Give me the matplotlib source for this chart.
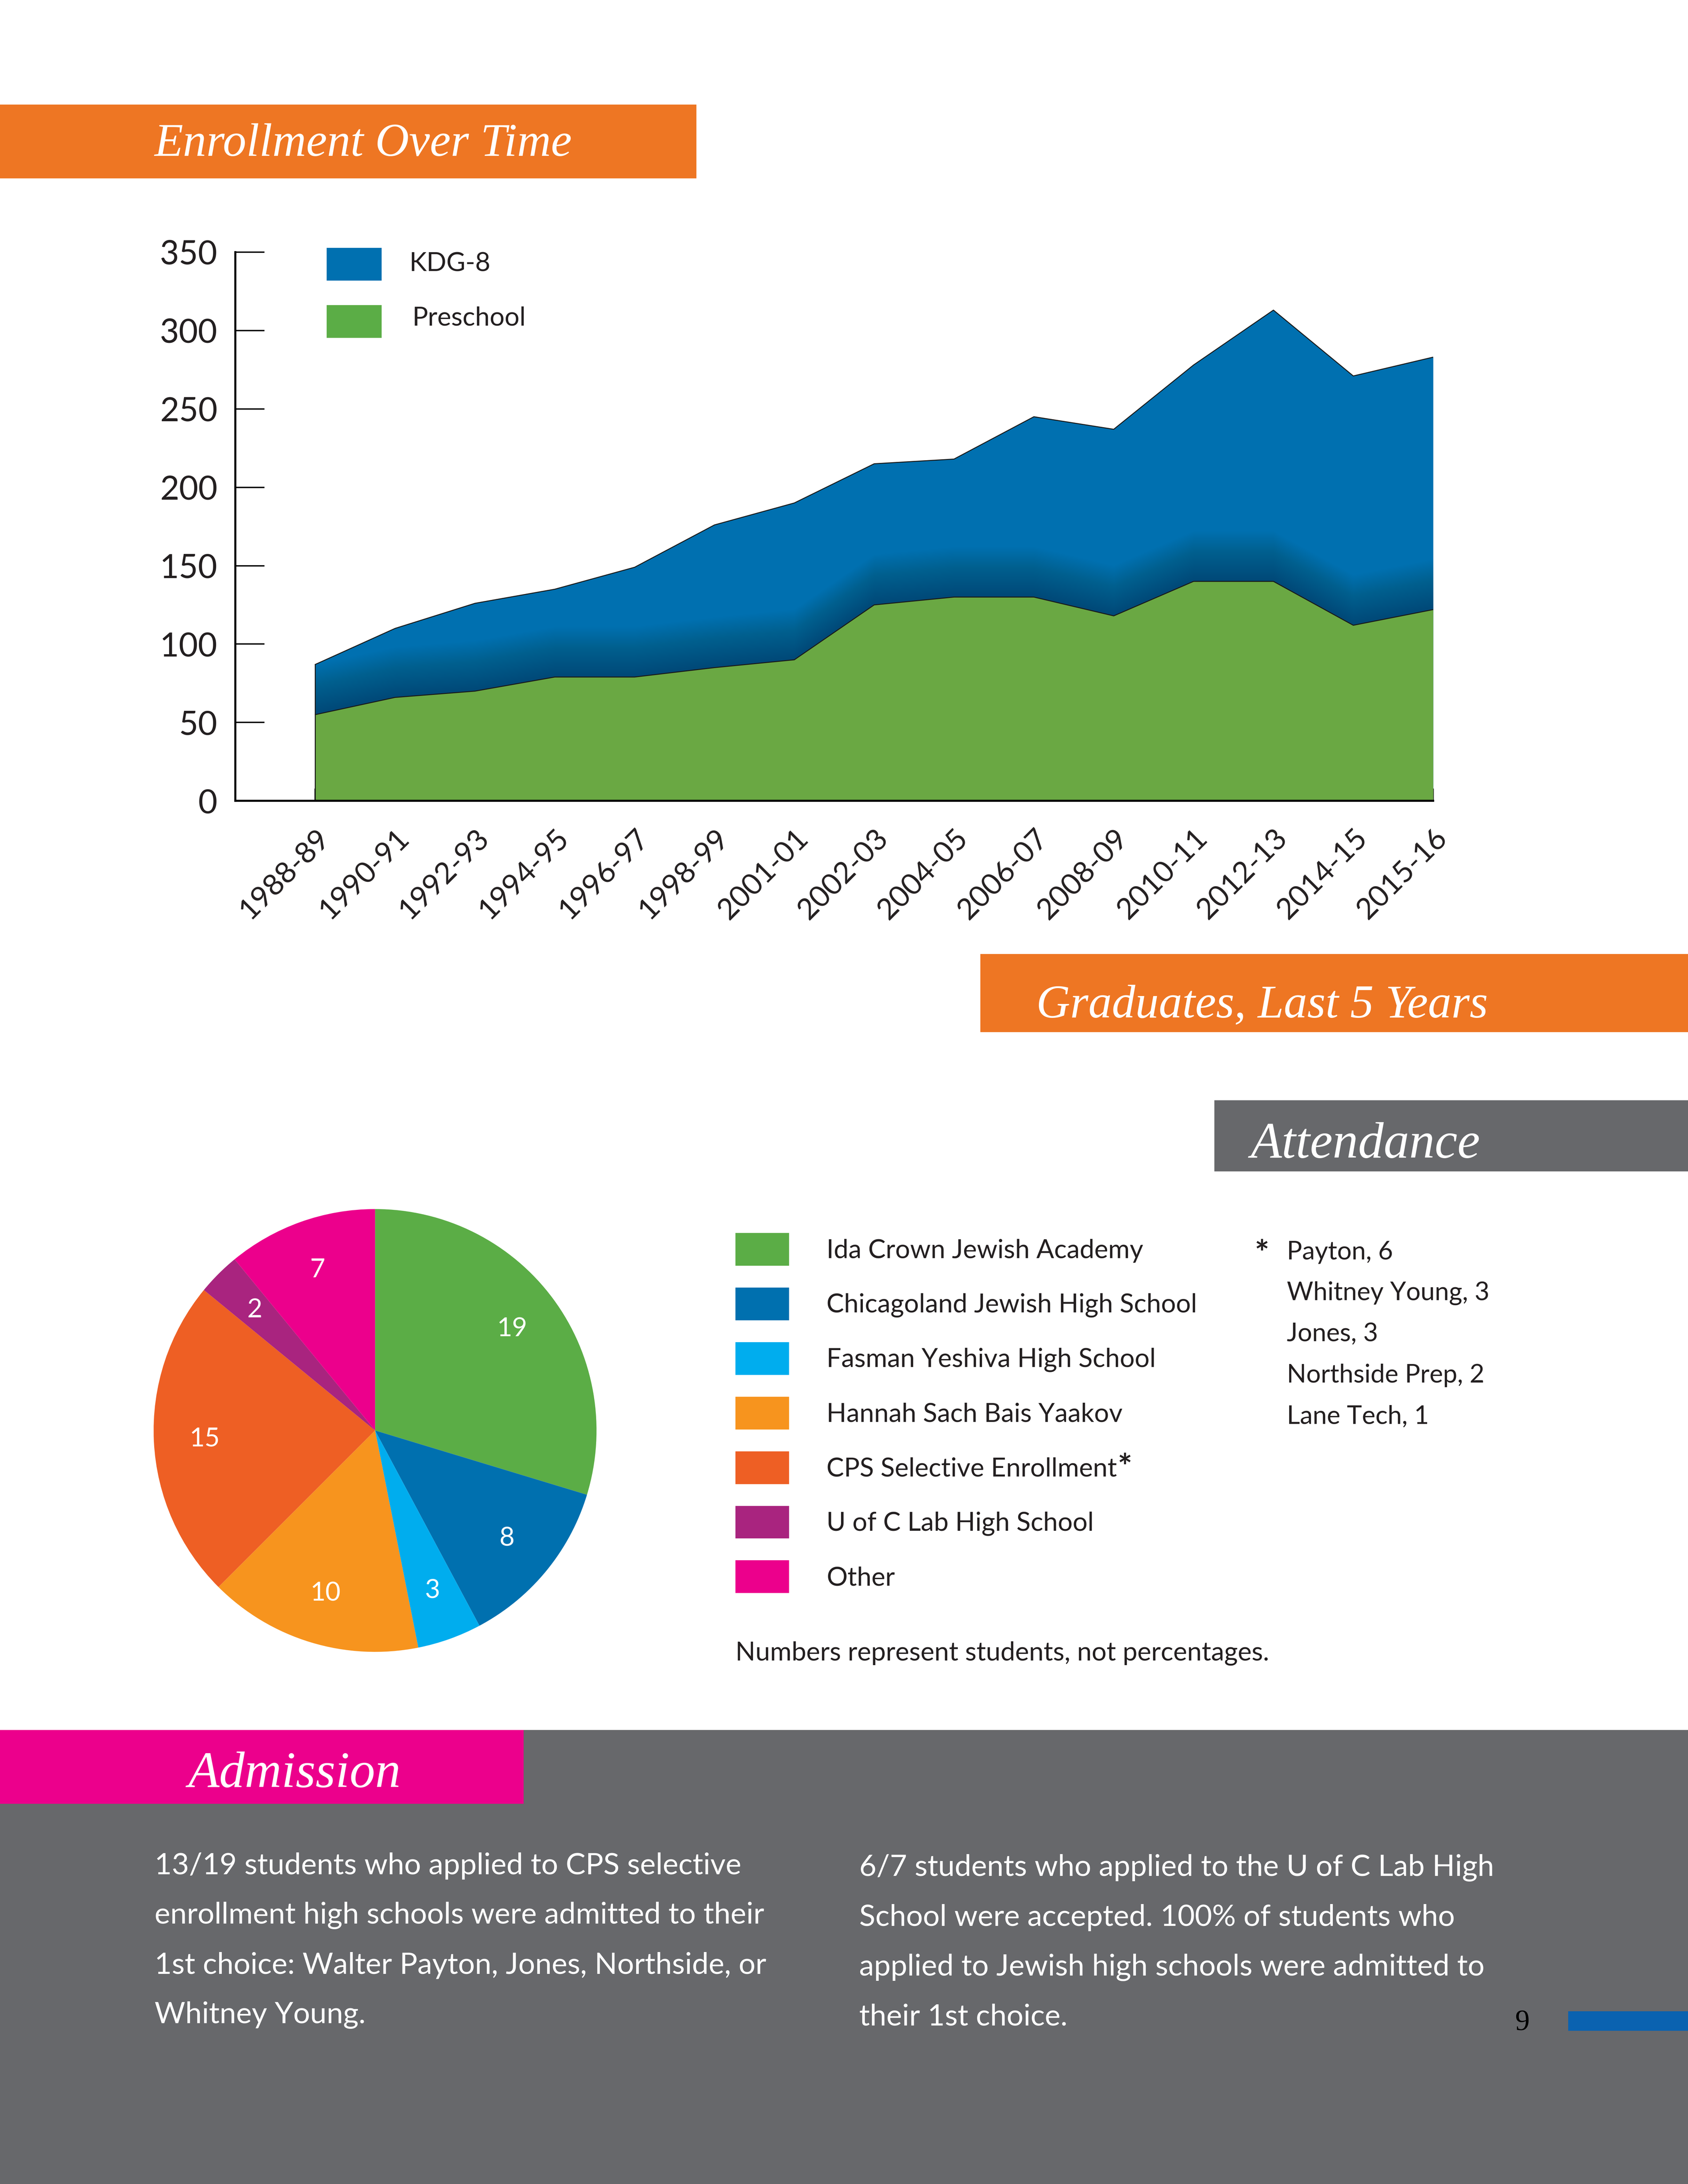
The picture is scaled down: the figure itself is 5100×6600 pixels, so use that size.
import matplotlib
matplotlib.use('Agg')
import matplotlib.pyplot as plt
from matplotlib.patches import Rectangle
from matplotlib.text import Annotation
import numpy as np

# ---------------- data ----------------
years = ['1988-89', '1990-91', '1992-93', '1994-95', '1996-97', '1998-99', '2001-01',
         '2002-03', '2004-05', '2006-07', '2008-09', '2010-11', '2012-13', '2014-15', '2015-16']
preschool = [55, 66, 70, 79, 79, 85, 90, 125, 130, 130, 118, 140, 140, 112, 122]
kdg8 = [32, 44, 56, 56, 70, 91, 100, 90, 88, 115, 119, 138, 173, 159, 161]
series_names = ['KDG-8', 'Preschool']
y_ticks = [0, 50, 100, 150, 200, 250, 300, 350]

schools = ['Ida Crown Jewish Academy', 'Chicagoland Jewish High School',
           'Fasman Yeshiva High School', 'Hannah Sach Bais Yaakov',
           'CPS Selective Enrollment', 'U of C Lab High School', 'Other']
grads = [19, 8, 3, 10, 15, 2, 7]
cps_names = ['Payton', 'Whitney Young', 'Jones', 'Northside Prep', 'Lane Tech']
cps_counts = [6, 3, 3, 2, 1]

# ---------------- style ----------------
ORANGE = '#ee7623'
GREY = '#67686b'
PINK = '#ec008c'
BLUE = '#0070b0'
GREEN_AREA = '#6aa843'
GREEN = '#5bad46'
TXT = '#231f20'
school_colors = ['#5bad46', '#0070af', '#00adee', '#f7941e', '#ee5f24', '#a9247f', '#ec008c']

SANS = ['Lato', 'Open Sans', 'DejaVu Sans']
SERIF = ['Liberation Serif', 'DejaVu Serif']
plt.rcParams['font.family'] = SANS

W, H = 1212.0, 1568.0
def fx(x): return x / W
def fy(y): return 1 - y / H

fig = plt.figure(figsize=(17, 22), dpi=300)
fig.patch.set_facecolor('white')

def rect(x0, y0, x1, y1, color, z=0.5):
    fig.add_artist(Rectangle((fx(x0), fy(y1)), fx(x1) - fx(x0), fy(y0) - fy(y1),
                             transform=fig.transFigure, facecolor=color,
                             edgecolor='none', zorder=z))

# banners
rect(0, 75, 500, 128, ORANGE)
fig.text(fx(111), fy(112), 'Enrollment Over Time', color='white', fontsize=34,
         family=SERIF, style='italic', va='baseline', ha='left')
rect(704, 685, 1212, 741, ORANGE)
fig.text(fx(744), fy(730.5), 'Graduates, Last 5 Years', color='white', fontsize=34,
         family=SERIF, style='italic', va='baseline', ha='left')
rect(872, 790, 1212, 841, GREY)
fig.text(fx(898), fy(831), 'Attendance', color='white', fontsize=37,
         family=SERIF, style='italic', va='baseline', ha='left')

# bottom panel
rect(0, 1242, 1212, 1568, GREY, z=0.4)
rect(0, 1242, 376, 1295, PINK)
fig.text(fx(135), fy(1283), 'Admission', color='white', fontsize=37,
         family=SERIF, style='italic', va='baseline', ha='left')

left_par = ['13/19 students who applied to CPS selective',
            'enrollment high schools were admitted to their',
            '1st choice: Walter Payton, Jones, Northside, or',
            'Whitney Young.']
right_par = ['6/7 students who applied to the U of C Lab High',
             'School were accepted. 100% of students who',
             'applied to Jewish high schools were admitted to',
             'their 1st choice.']
for i, line in enumerate(left_par):
    fig.text(fx(111), fy(1339.6 + 35.7 * i), line, color='white', fontsize=21.5,
             va='center', ha='left')
for i, line in enumerate(right_par):
    fig.text(fx(617), fy(1341 + 35.7 * i), line, color='white', fontsize=21.5,
             va='center', ha='left')

fig.text(fx(1093), fy(1452), '9', color='black', fontsize=21, family=SERIF,
         va='center', ha='center')
rect(1126, 1444, 1212, 1458, '#0a62b0')

# ---------------- area chart ----------------
x = np.arange(len(years))
pre = np.array(preschool, dtype=float)
tot = pre + np.array(kdg8, dtype=float)

ax = fig.add_axes([fx(169), fy(575), fx(1029) - fx(169), fy(181) - fy(575)])
ax.set_facecolor('none')
ax.fill_between(x, 0, tot, color=BLUE, linewidth=0, zorder=1)
# soft shadow of the lower band
n_layers = 40
for k in range(n_layers):
    h = 32.0 * (k + 1) / n_layers
    ax.fill_between(x, pre, np.minimum(pre + h, tot), color='#00223a',
                    alpha=0.011, linewidth=0, zorder=1.5)
ax.fill_between(x, 0, pre, color=GREEN_AREA, linewidth=0, zorder=2)
ax.plot(x, tot, color='#1a1a1a', lw=0.7, zorder=3)
ax.plot(x, pre, color='#1a1a1a', lw=0.7, zorder=3)
ax.plot([x[0], x[0]], [0, tot[0]], color='#1a1a1a', lw=0.7, zorder=3)

ax.set_xlim(-1, len(years) - 1)
ax.set_ylim(0, 350)
for s in ['top', 'right']:
    ax.spines[s].set_visible(False)
for s in ['left', 'bottom']:
    ax.spines[s].set_linewidth(1.5)
    ax.spines[s].set_color('black')
    ax.spines[s].set_zorder(5)
ax.set_yticks(y_ticks)
ax.set_yticklabels([str(v) for v in y_ticks], fontsize=24, color=TXT)
ax.tick_params(axis='y', direction='in', length=21, width=1.0, pad=13)
ax.set_xticks(x)
ax.set_xticklabels(years, fontsize=21.5, color=TXT,
                   rotation=45, ha='right', va='top', rotation_mode='anchor')
ax.tick_params(axis='x', direction='in', length=9, width=0.9, pad=17)
for t in ax.get_xticklabels() + ax.get_yticklabels():
    t.set_zorder(6)

# legend (area)
rect(234.5, 178, 274, 201.5, BLUE, z=2)
rect(234.5, 219, 274, 242.5, GREEN, z=2)
fig.text(fx(294), fy(189.5), series_names[0], fontsize=19, color=TXT, va='center', ha='left')
fig.text(fx(296), fy(228.5), series_names[1], fontsize=19, color=TXT, va='center', ha='left')

# ---------------- pie ----------------
r = 159
pax = fig.add_axes([fx(269.3 - r), fy(1027 + r), 2 * r / W, 2 * r / H])
total = sum(grads)
pax.pie(grads, colors=school_colors, startangle=90, counterclock=False,
        autopct=lambda p: f'{int(round(p * total / 100))}', pctdistance=0.77,
        textprops=dict(color='white', fontsize=19),
        wedgeprops=dict(linewidth=0))
pax.set_xlim(-1, 1)
pax.set_ylim(-1, 1)
pax.set_aspect('equal')
pax.axis('off')

# pie legend
for i, (name, col) in enumerate(zip(schools, school_colors)):
    cy = 897 + 39.17 * i
    rect(528, cy - 11.75, 566.5, cy + 11.75, col, z=2)
    t = fig.text(fx(593.5), fy(cy + 1), name, fontsize=19, color=TXT, va='center', ha='left')
    if name.startswith('CPS'):
        fig.add_artist(Annotation('*', xy=(1, 1), xycoords=t, xytext=(0.5, 3),
                                  textcoords='offset points', fontsize=25,
                                  fontweight='bold', color=TXT, va='top', ha='left',
                                  annotation_clip=False))

fig.text(fx(906), fy(901), '*', fontsize=25, fontweight='bold', color=TXT,
         va='center', ha='center')
for i, (n, c) in enumerate(zip(cps_names, cps_counts)):
    fig.text(fx(924), fy(899 + 29.5 * i), f'{n}, {c}', fontsize=18.5, color=TXT,
             va='center', ha='left')

fig.text(fx(528), fy(1187), 'Numbers represent students, not percentages.',
         fontsize=19, color=TXT, va='center', ha='left')

fig.savefig('out.png', dpi=300, facecolor='white')
